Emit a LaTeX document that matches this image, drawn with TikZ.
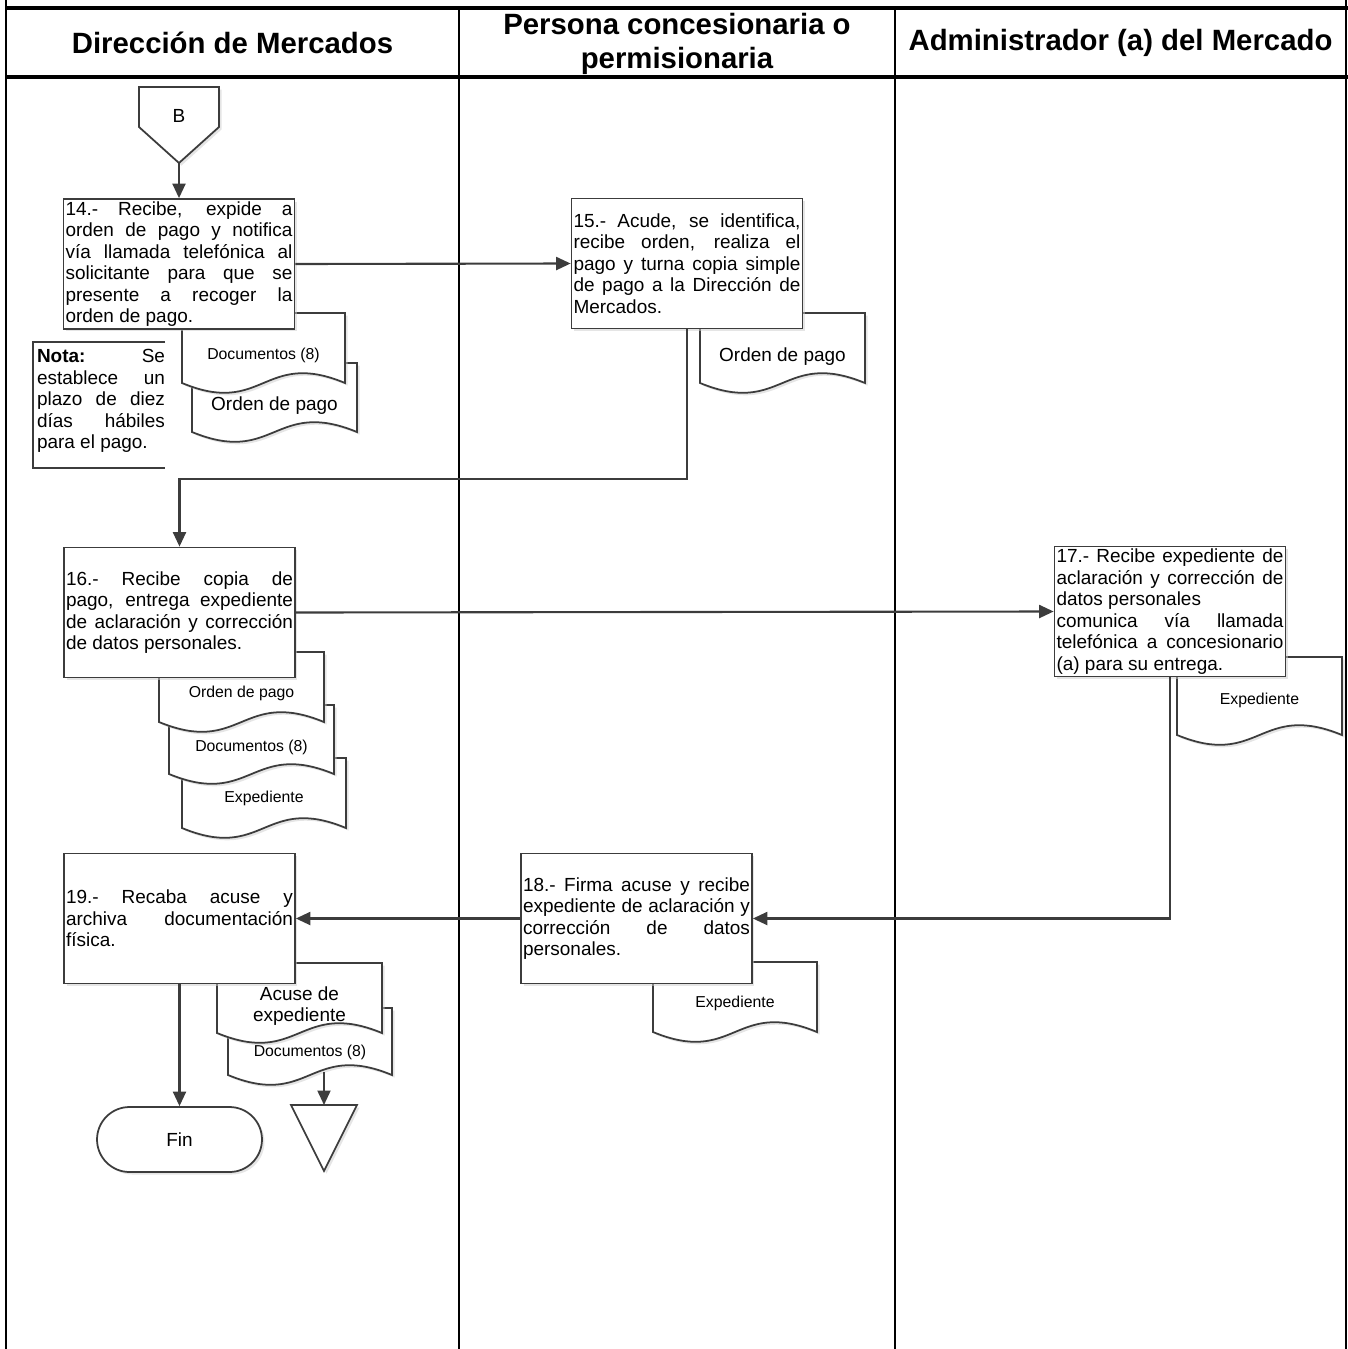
\documentclass[tikz,border=0pt]{standalone}
\usepackage{fontspec}
\setmainfont{Liberation Sans}
\usetikzlibrary{arrows.meta,shadows}

\definecolor{shapeGray}{HTML}{3C3C3C}

% tamaños de letra
\newcommand{\bodyfont}{\fontsize{10.8}{12.2}\selectfont}
\newcommand{\smallfont}{\fontsize{9}{11}\selectfont}
\newcommand{\titlefont}{\bfseries\fontsize{16.7}{19.5}\selectfont}

% cortes de línea forzados, sin guiones
\tolerance=10000
\hbadness=10000
\hyphenpenalty=10000
\exhyphenpenalty=10000

% Hoja de documento con borde ondulado
% #1 nombre, #2 x izq, #3 y sup, #4 x der, #5 y de la onda, #6 y del texto, #7 estilo, #8 texto
\newcommand{\hojadoc}[8]{%
	\filldraw[docLine] (#2,#3) -- (#4,#3) -- (#4,#5)
	.. controls ({(#2+#4)/2},{#5-34}) and ({(#2+#4)/2},{#5+34}) .. (#2,#5) -- cycle;
	\node[#7] (#1) at ({(#2+#4)/2},#6) {#8};
}

\begin{document}
\begin{tikzpicture}[x=0.02cm, y=-0.02cm, >={Triangle[length=0.29cm,width=0.26cm]}]
	
	% Estilos del diagrama
	\tikzset{
		laneLine/.style={line width=1.1pt, black},
		headLine/.style={line width=1.9pt, black},
		softShadow/.style={drop shadow={shadow xshift=0.05cm, shadow yshift=-0.05cm, fill=black!20}},
		shapeLine/.style={line width=1pt, draw=shapeGray, fill=white, softShadow},
		docLine/.style={shapeLine},
		procBox/.style={shapeLine, minimum width=4.62cm, minimum height=2.6cm,
			text width=4.54cm, inner xsep=0.04cm, inner ysep=0pt, align=justify, font=\bodyfont},
		procFin/.style={shapeLine, rounded corners=0.65cm, minimum width=3.3cm, minimum height=1.3cm, font=\bodyfont},
		flowLine/.style={->, line width=1.2pt, draw=shapeGray},
		docBig/.style={font=\bodyfont, inner sep=0pt, align=center},
		docSmall/.style={font=\smallfont, inner sep=0pt},
		notaText/.style={font=\bodyfont, text width=2.56cm, inner sep=0pt, align=justify},
		laneTitle/.style={font=\titlefont, align=center, inner sep=0pt}
	}
	
	\useasboundingbox (0,0) rectangle (1348,1349);
	
	% Marco y carriles
	\draw[laneLine] (6,0) -- (6,1349);
	\foreach \x in {459,895} {
		\draw[laneLine] (\x,8) -- (\x,1349);
	}
	\draw[laneLine] (1346,0) -- (1346,1349);
	\draw[headLine] (6,8) -- (1348,8);
	\draw[headLine] (6,77) -- (1348,77);
	
	% Títulos de los carriles
	\node[laneTitle] (laneDir) at (232.5,43) {Dirección de Mercados};
	\node[laneTitle] (lanePer) at (677,44) {Persona concesionaria o\\permisionaria};
	\node[laneTitle] (laneAdm) at (1120.5,43) {Administrador (a) del Mercado};
	
	% Conector fuera de página B
	\filldraw[shapeLine] (139,87) -- (219,87) -- (219,127) -- (179,163) -- (139,127) -- cycle;
	\node[font=\bodyfont] (conB) at (179,116) {B};
	\coordinate (conBtip) at (179,163);
	
	% Documentos (de atrás hacia adelante)
	\hojadoc{op1}{192}{363}{357}{432}{406}{docBig}{Orden de pago}
	\hojadoc{dc1}{182}{313}{345}{383}{355}{docSmall}{Documentos (8)}
	\hojadoc{op2}{700}{313}{865}{383}{357}{docBig}{Orden de pago}
	\hojadoc{ex1}{182}{758}{346}{828}{798}{docSmall}{Expediente}
	\hojadoc{dc2}{169}{705}{334}{774}{747}{docSmall}{Documentos (8)}
	\hojadoc{op3}{159}{652}{324}{722}{693}{docSmall}{Orden de pago}
	\hojadoc{ex2}{1177}{657}{1342}{735}{700}{docSmall}{Expediente}
	\hojadoc{ex3}{653}{962}{817}{1032}{1003}{docSmall}{Expediente}
	\hojadoc{dc3}{228}{1008}{392}{1075}{1052}{docSmall}{Documentos (8)}
	\hojadoc{ac1}{217}{963}{382}{1033}{1006}{docBig}{Acuse de\\expediente}
	
	% Nota (corchete abierto)
	\draw[line width=1pt, shapeGray] (165,342) -- (33,342) -- (33,468) -- (165,468);
	\node[notaText] (nota) at (101,401) {\textbf{Nota:} Se\linebreak establece un\linebreak plazo de diez\linebreak días hábiles\linebreak para el pago.};
	
	% Actividades
	\node[procBox] (p14) at (179,264) {14.- Recibe, expide a\linebreak orden de pago y notifica\linebreak vía llamada telefónica al\linebreak solicitante para que se\linebreak presente a recoger la\linebreak orden de pago.};
	\node[procBox] (p15) at (687,263.5) {15.- Acude, se identifica,\linebreak recibe orden, realiza el\linebreak pago y turna copia simple\linebreak de pago a la Dirección de\linebreak Mercados.};
	\node[procBox] (p16) at (179.5,612.5) {16.- Recibe copia de\linebreak pago, entrega expediente\linebreak de aclaración y corrección\linebreak de datos personales.};
	\node[procBox] (p17) at (1170,611.5) {17.- Recibe expediente de\linebreak aclaración y corrección de\linebreak datos personales\newline comunica vía llamada\linebreak telefónica a concesionario\linebreak (a) para su entrega.};
	\node[procBox] (p18) at (636.5,918.5) {18.- Firma acuse y recibe\linebreak expediente de aclaración y\linebreak corrección de datos\linebreak personales.};
	\node[procBox] (p19) at (179.5,918.5) {19.- Recaba acuse y\linebreak archiva documentación\linebreak física.};
	
	% Fin y archivo
	\node[procFin] (fin) at (179.5,1139.5) {Fin};
	\filldraw[shapeLine] (291,1105) -- (357,1105) -- (324,1171) -- cycle;
	\coordinate (archTop) at (324,1105);
	\coordinate (dc3Bot) at (324,1072);
	
	% Flujo
	\draw[flowLine] (conBtip) -- (p14.north);
	\draw[flowLine] (p14.east) -- (p15.west);
	\coordinate (turnA) at (687,479);
	\draw[flowLine] (p15.south) -- (turnA) -| (p16.north);
	\draw[flowLine] (p16.east) -- (p17.west);
	\draw[flowLine] (p17.south) |- (p18.east);
	\draw[flowLine] (p18.west) -- (p19.east);
	\draw[flowLine] (p19.south) -- (fin.north);
	\draw[flowLine] (dc3Bot) -- (archTop);
	
\end{tikzpicture}
\end{document}
